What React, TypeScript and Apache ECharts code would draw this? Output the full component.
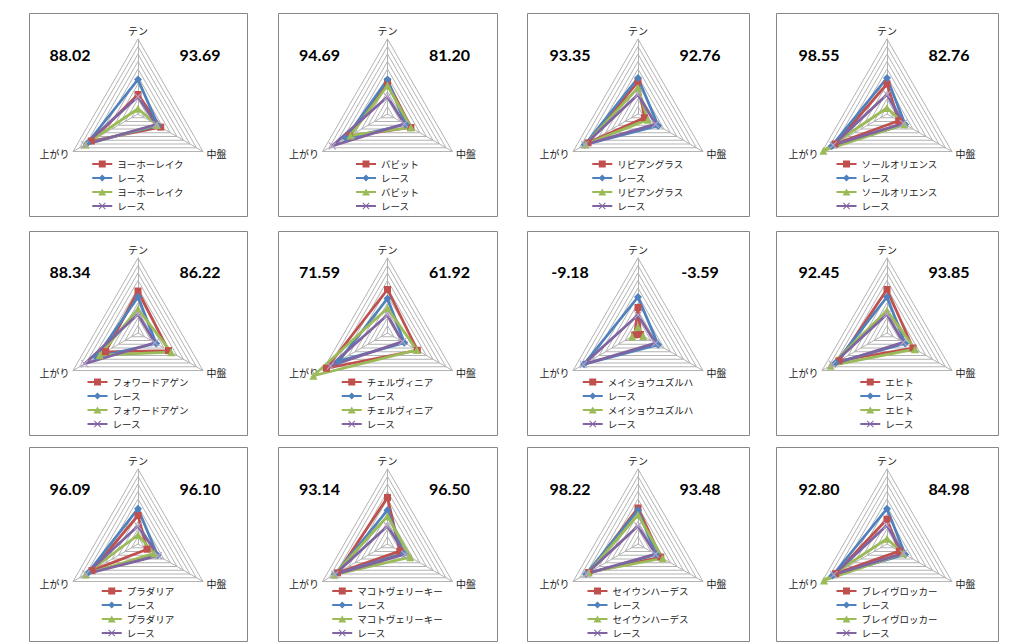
import React, { useEffect, useRef } from "react";
import * as echarts from "echarts";

// ---- data ----
const axisNames = ["テン", "中盤", "上がり"];
const horses = [
  "ヨーホーレイク", "バビット", "リビアングラス", "ソールオリエンス",
  "フォワードアゲン", "チェルヴィニア", "メイショウユズルハ", "エヒト",
  "プラダリア", "マコトヴェリーキー", "セイウンハーデス", "ブレイヴロッカー",
];
const raceLabel = "レース";
const leftScores = ["88.02", "94.69", "93.35", "98.55", "88.34", "71.59", "-9.18", "92.45", "96.09", "93.14", "98.22", "92.80"];
const rightScores = ["93.69", "81.20", "92.76", "82.76", "86.22", "61.92", "-3.59", "93.85", "96.10", "96.50", "93.48", "84.98"];
// values per panel in order [テン, 中盤, 上がり]
const horseValuesA = [
  [26, 35, 72], [43, 36, 59], [43, 10, 77], [40, 18, 80],
  [56, 47, 50], [58, 46, 94], [34, 4, 5], [58, 40, 74],
  [38, 14, 71], [62, 19, 77], [48, 35, 76], [33, 19, 79],
];
const raceValuesA = [
  [46, 31, 78], [46, 28, 64], [48, 31, 82], [48, 28, 85],
  [48, 28, 64], [46, 26, 75], [48, 31, 83], [48, 28, 79],
  [47, 30, 77], [45, 25, 81], [45, 28, 80], [47, 28, 84],
];
const horseValuesB = [
  [7, 29, 81], [38, 36, 57], [35, 15, 81], [8, 27, 98],
  [32, 51, 59], [33, 45, 114], [8, 8, 9], [30, 43, 87],
  [12, 25, 81], [37, 35, 82], [39, 38, 76], [7, 25, 97],
];
const raceValuesB = [
  [23, 28, 82], [23, 26, 85], [26, 27, 82], [26, 25, 83],
  [25, 26, 82], [24, 23, 88], [24, 27, 84], [25, 25, 84],
  [24, 31, 80], [24, 27, 81], [24, 27, 79], [25, 25, 82],
];

// ---- layout / style ----
const colLeft = [29, 278, 527, 776];
const colWidth = [218, 219, 222, 222];
const rowTop = [13, 231, 447];
const rowHeight = [203, 204, 194];
const rowCenterOffset = [101, 102, 97];
const rowLegendOffset = [44, 43, 41];
const rowScoreOffset = [-60, -62, -56];
const RADIUS = 75;

const colors = ["#C0504D", "#4F81BD", "#9BBB59", "#8064A2"];
const symbolColors = ["#C0504D", "#4F81BD", "#9BBB59", "#B3A2C7"];
const X_PATH = "path://M1,0L5,4L9,0L10,1L6,5L10,9L9,10L5,6L1,10L0,9L4,5L0,1Z";
const symbols = ["rect", "diamond", "triangle", X_PATH];
const symbolSizes = [7, 8, 8, 8];
const LINE = "M0,2.5H20V4.5H0Z ";
const legendIcons = [
  "path://" + LINE + "M6.5,0H13.5V7H6.5Z",
  "path://" + LINE + "M10,0L13.5,3.5L10,7L6.5,3.5Z",
  "path://" + LINE + "M10,0L14,7H6Z",
  "path://" + LINE + "M6.5,0.7L7.2,0L10,2.8L12.8,0L13.5,0.7L10.7,3.5L13.5,6.3L12.8,7L10,4.2L7.2,7L6.5,6.3L9.3,3.5Z",
];
const JP_FONT = '"Noto Sans CJK JP", sans-serif';
const LEGEND_FONT_SIZE = 9.5;
const GRID_COLOR = "#B3B3B3";

function measure(text: string, font: string): number {
  const ctx = document.createElement("canvas").getContext("2d");
  if (!ctx) return text.length * 9;
  ctx.font = font;
  return ctx.measureText(text).width;
}

// ECharts radar places indicators counter-clockwise: [top, bottom-left, bottom-right]
const reorder = (v: number[]) => [v[0], v[2], v[1]];

export default function App() {
  const ref = useRef<HTMLDivElement>(null);
  useEffect(() => {
    if (!ref.current) return;
    const chart = echarts.init(ref.current, undefined, { renderer: "svg" });
    const radars: any[] = [];
    const series: any[] = [];
    const legends: any[] = [];
    const graphics: any[] = [];
    const labelMap: Record<string, string> = {};

    horses.forEach((horse, p) => {
      const r = Math.floor(p / 4);
      const c = p % 4;
      const cx = colLeft[c] + colWidth[c] / 2;
      const cy = rowTop[r] + rowCenterOffset[r];

      graphics.push({
        type: "rect",
        shape: { x: colLeft[c] + 0.5, y: rowTop[r] + 0.5, width: colWidth[c], height: rowHeight[r] },
        style: { fill: "#fff", stroke: "#878787", lineWidth: 1 },
        z: -10,
        silent: true,
      });
      graphics.push({
        type: "text",
        x: cx - 68,
        y: cy + rowScoreOffset[r],
        style: { text: leftScores[p], fontSize: 16, fontWeight: "bold", fontFamily: "Lato, sans-serif", fill: "#000", align: "center", verticalAlign: "middle" },
      });
      graphics.push({
        type: "text",
        x: cx + 62,
        y: cy + rowScoreOffset[r],
        style: { text: rightScores[p], fontSize: 16, fontWeight: "bold", fontFamily: "Lato, sans-serif", fill: "#000", align: "center", verticalAlign: "middle" },
      });

      radars.push({
        center: [cx, cy],
        radius: RADIUS,
        startAngle: 90,
        splitNumber: 10,
        shape: "polygon",
        indicator: reorder(axisNames).map((n) => ({ name: n, min: 0, max: 100 })),
        axisName: { color: "#222", fontSize: 10, fontFamily: JP_FONT },
        nameGap: 4,
        splitLine: { lineStyle: { color: GRID_COLOR, width: 1 } },
        splitArea: { show: false },
        axisLine: { lineStyle: { color: GRID_COLOR, width: 1 } },
        axisTick: { show: false },
        axisLabel: { show: false },
      });

      const sets = [horseValuesA[p], raceValuesA[p], horseValuesB[p], raceValuesB[p]];
      const labels = [horse, raceLabel, horse, raceLabel];
      const legendData: any[] = [];
      sets.forEach((vals, k) => {
        const id = `p${p}-s${k}`;
        labelMap[id] = labels[k];
        series.push({
          type: "radar",
          name: id,
          radarIndex: p,
          symbol: symbols[k],
          symbolSize: symbolSizes[k],
          itemStyle: { color: symbolColors[k] },
          lineStyle: { color: colors[k], width: 2.75 },
          data: [{ name: id, value: reorder(vals) }],
          silent: true,
        });
        legendData.push({
          name: id,
          icon: legendIcons[k],
          itemStyle: { color: colors[k], borderWidth: 0 },
        });
      });

      const textW = measure(horse, `${LEGEND_FONT_SIZE}px ${JP_FONT}`);
      const legendW = 20 + 5 + textW;
      legends.push({
        orient: "vertical",
        left: cx - legendW / 2,
        top: cy + rowLegendOffset[r],
        padding: 0,
        itemWidth: 20,
        itemHeight: 7,
        itemGap: 2,
        selectedMode: false,
        data: legendData,
        formatter: (name: string) => labelMap[name] || name,
        textStyle: { fontSize: LEGEND_FONT_SIZE, fontFamily: JP_FONT, color: "#222", lineHeight: 12 },
      });
    });

    chart.setOption({
      animation: false,
      backgroundColor: "#fff",
      radar: radars,
      series,
      legend: legends,
      graphic: graphics,
    });
    return () => chart.dispose();
  }, []);
  return (
    <div
      ref={ref}
      style={{ position: "fixed", left: 0, top: 0, width: 1024, height: 643, background: "#fff" }}
    />
  );
}
